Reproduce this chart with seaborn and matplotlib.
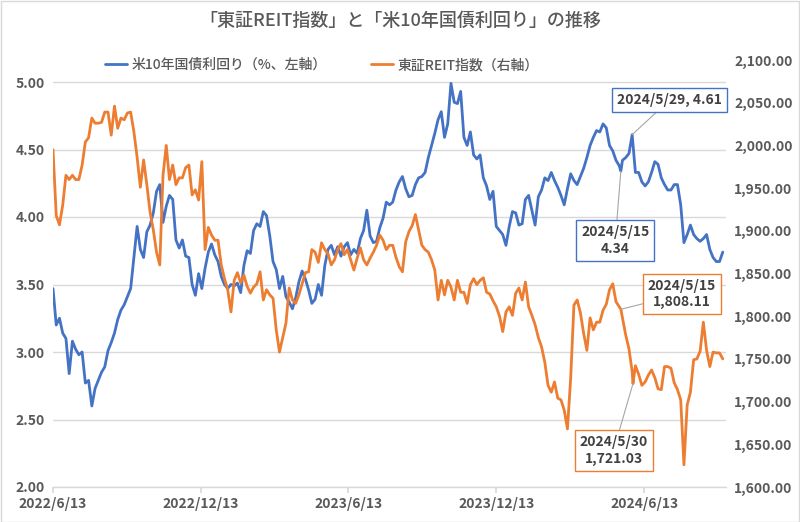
import numpy as np
import pandas as pd
import matplotlib
matplotlib.use("Agg")
import matplotlib.pyplot as plt
import matplotlib.dates as mdates
from matplotlib.patches import Rectangle
from matplotlib.lines import Line2D
import seaborn as sns

# ---------------- data ----------------
start_date = "2022-06-13"
step = "4D"

us10y_yield = [3.47, 3.20, 3.25, 3.14, 3.10, 2.84, 3.08, 3.02, 2.98, 3.00,
               2.77, 2.79, 2.60, 2.73, 2.79, 2.85, 2.89, 3.01, 3.07, 3.14,
               3.24, 3.31, 3.35, 3.41, 3.47, 3.70, 3.93, 3.76, 3.70, 3.89,
               3.94, 4.03, 4.19, 4.24, 3.96, 4.08, 4.16, 4.13, 3.83, 3.77,
               3.83, 3.71, 3.70, 3.50, 3.42, 3.58, 3.47, 3.62, 3.74, 3.80,
               3.72, 3.67, 3.56, 3.50, 3.47, 3.50, 3.49, 3.51, 3.44, 3.64,
               3.75, 3.73, 3.90, 3.95, 3.93, 4.04, 4.01, 3.86, 3.67, 3.61,
               3.47, 3.56, 3.41, 3.37, 3.32, 3.40, 3.52, 3.60, 3.54, 3.46,
               3.36, 3.39, 3.50, 3.42, 3.64, 3.76, 3.79, 3.72, 3.78, 3.71,
               3.78, 3.81, 3.72, 3.76, 3.73, 3.84, 3.90, 4.05, 3.86, 3.81,
               3.82, 3.92, 3.99, 4.11, 4.09, 4.11, 4.20, 4.26, 4.30, 4.21,
               4.15, 4.16, 4.24, 4.29, 4.30, 4.33, 4.44, 4.53, 4.62, 4.72,
               4.78, 4.59, 4.69, 4.99, 4.85, 4.84, 4.93, 4.59, 4.53, 4.63,
               4.46, 4.43, 4.46, 4.29, 4.23, 4.13, 4.19, 3.93, 3.90, 3.87,
               3.79, 3.93, 4.04, 4.03, 3.94, 3.95, 4.13, 4.16, 4.05, 3.94,
               4.15, 4.20, 4.29, 4.27, 4.33, 4.27, 4.22, 4.16, 4.09, 4.21,
               4.32, 4.27, 4.24, 4.30, 4.36, 4.44, 4.53, 4.59, 4.64, 4.63,
               4.69, 4.66, 4.53, 4.49, 4.42, 4.38, 4.42, 4.44, 4.47, 4.61,
               4.33, 4.33, 4.26, 4.23, 4.26, 4.33, 4.41, 4.39, 4.29, 4.24,
               4.20, 4.20, 4.24, 4.24, 4.09, 3.81, 3.87, 3.94, 3.87, 3.84,
               3.82, 3.84, 3.87, 3.76, 3.70, 3.67, 3.67, 3.74]

reit_index = [1995, 1918, 1907, 1930, 1965, 1960, 1965, 1960, 1960, 1977,
              2004, 2009, 2032, 2026, 2026, 2027, 2039, 2039, 2012, 2046,
              2020, 2032, 2030, 2038, 2039, 2016, 1986, 1951, 1983, 1954,
              1922, 1901, 1875, 1860, 1965, 2000, 1960, 1977, 1954, 1962,
              1962, 1974, 1977, 1942, 1948, 1936, 1981, 1878, 1904, 1895,
              1889, 1889, 1860, 1844, 1831, 1805, 1842, 1851, 1839, 1848,
              1835, 1827, 1834, 1838, 1852, 1819, 1831, 1825, 1821, 1784,
              1758, 1775, 1792, 1833, 1819, 1815, 1825, 1838, 1851, 1852,
              1878, 1875, 1863, 1886, 1878, 1873, 1860, 1866, 1878, 1885,
              1872, 1878, 1866, 1854, 1868, 1880, 1866, 1860, 1868, 1875,
              1883, 1895, 1889, 1878, 1883, 1883, 1869, 1858, 1852, 1887,
              1899, 1906, 1919, 1901, 1883, 1878, 1875, 1866, 1854, 1819,
              1842, 1825, 1842, 1834, 1819, 1842, 1828, 1828, 1815, 1837,
              1844, 1837, 1842, 1845, 1828, 1826, 1818, 1811, 1800, 1782,
              1805, 1811, 1801, 1827, 1833, 1819, 1840, 1811, 1801, 1790,
              1775, 1764, 1746, 1719, 1711, 1723, 1704, 1702, 1690, 1668,
              1728, 1813, 1819, 1804, 1780, 1760, 1798, 1784, 1793, 1793,
              1807, 1814, 1831, 1838, 1817, 1811, 1798, 1778, 1762, 1735,
              1742, 1732, 1719, 1723, 1731, 1737, 1728, 1715, 1714, 1741,
              1741, 1739, 1722, 1714, 1702, 1626, 1696, 1711, 1749, 1750,
              1759, 1793, 1760, 1741, 1758, 1757, 1757, 1750]

ann_yield_dates = ["2024-05-29", "2024-05-15"]
ann_yield_values = [4.61, 4.34]
ann_yield_texts = ["2024/5/29, 4.61", "2024/5/15\n4.34"]

ann_reit_dates = ["2024-05-15", "2024-05-30"]
ann_reit_values = [1808.11, 1721.03]
ann_reit_texts = ["2024/5/15\n1,808.11", "2024/5/30\n1,721.03"]

x_tick_dates = ["2022-06-13", "2022-12-13", "2023-06-13", "2023-12-13", "2024-06-13"]
x_tick_labels = ["2022/6/13", "2022/12/13", "2023/6/13", "2023/12/13", "2024/6/13"]
x_end_date = "2024-09-22"
left_ticks = [2.00, 2.50, 3.00, 3.50, 4.00, 4.50, 5.00]
right_ticks = [1600, 1650, 1700, 1750, 1800, 1850, 1900, 1950, 2000, 2050, 2100]

title = "「東証REIT指数」と「米10年国債利回り」の推移"
label_yield = "米10年国債利回り（%、左軸）"
label_reit = "東証REIT指数（右軸）"

# ---------------- frames ----------------
dates = pd.date_range(start_date, periods=len(us10y_yield), freq=step)
df_yield = pd.concat([
    pd.DataFrame({"date": dates, "value": us10y_yield}),
    pd.DataFrame({"date": pd.to_datetime(ann_yield_dates), "value": ann_yield_values}),
]).sort_values("date").reset_index(drop=True)
df_reit = pd.concat([
    pd.DataFrame({"date": dates, "value": reit_index}),
    pd.DataFrame({"date": pd.to_datetime(ann_reit_dates), "value": ann_reit_values}),
]).sort_values("date").reset_index(drop=True)

# ---------------- style ----------------
sns.set_theme(style="white")
plt.rcParams["font.family"] = ["Noto Sans CJK JP", "DejaVu Sans"]

BLUE = "#4472C4"
ORANGE = "#ED7D31"
GRID = "#D9D9D9"
TXT = "#595959"
WEIGHT = "semibold"

W, H = 800, 522
fig = plt.figure(figsize=(W / 100, H / 100), dpi=100)
ax = fig.add_axes([53 / W, 35 / H, 673 / W, 427 / H])
ax2 = ax.twinx()

sns.lineplot(data=df_yield, x="date", y="value", ax=ax, color=BLUE, lw=2.0,
             estimator=None, legend=False)
sns.lineplot(data=df_reit, x="date", y="value", ax=ax2, color=ORANGE, lw=2.0,
             estimator=None, legend=False)

ax.set_xlim(mdates.date2num(pd.Timestamp(start_date)), mdates.date2num(pd.Timestamp(x_end_date)))
ax.set_ylim(2.0, 2.0 + 427 / 135)
ax2.set_ylim(1600, 2100)

ax.set_xticks([mdates.date2num(pd.Timestamp(d)) for d in x_tick_dates])
ax.set_xticklabels(x_tick_labels, fontweight=WEIGHT)
ax.set_yticks(left_ticks)
ax.set_yticklabels([f"{v:.2f}" for v in left_ticks], fontweight=WEIGHT)
ax2.set_yticks(right_ticks)
ax2.set_yticklabels([f"{v:,.2f}" for v in right_ticks], fontweight=WEIGHT)

ax.set_xlabel("")
ax.set_ylabel("")
ax2.set_ylabel("")

ax.yaxis.grid(True, color=GRID, lw=1)
ax.xaxis.grid(False)
ax.set_axisbelow(True)

for s in ["top", "left", "right"]:
    ax.spines[s].set_visible(False)
ax.spines["bottom"].set_color(GRID)
ax.spines["bottom"].set_linewidth(1)
for s in ax2.spines.values():
    s.set_visible(False)

ax.tick_params(axis="x", colors=GRID, labelcolor=TXT, labelsize=10, length=4,
               direction="out", pad=3, bottom=True)
ax.tick_params(axis="y", labelcolor=TXT, labelsize=10, length=0, pad=6)
ax2.tick_params(axis="y", labelcolor=TXT, labelsize=10, length=0, pad=6)

fig.text(0.5, 1 - 21 / H, title, ha="center", va="center", fontsize=13,
         color=TXT, fontweight="medium")
handles = [Line2D([0], [0], color=BLUE, lw=2), Line2D([0], [0], color=ORANGE, lw=2)]
fig.legend(handles, [label_yield, label_reit], loc="center",
           bbox_to_anchor=(322 / W, 1 - 65 / H), ncol=2, frameon=False,
           prop={"size": 10, "weight": "medium"}, handlelength=1.6,
           handletextpad=0.3, columnspacing=3.2, labelcolor=TXT)

box_txt = "#404040"
yield_offsets = [(27, 25), (-4, -50)]
for d, v, t, off in zip(ann_yield_dates, ann_yield_values, ann_yield_texts, yield_offsets):
    ax.annotate(t, xy=(mdates.date2num(pd.Timestamp(d)), v), xytext=off,
                textcoords="offset points", ha="center", va="center",
                fontsize=10, color=box_txt, linespacing=1.25, fontweight=WEIGHT,
                bbox=dict(boxstyle="square,pad=0.35", fc="white", ec=BLUE, lw=1),
                arrowprops=dict(arrowstyle="-", color="#A6A6A6", lw=0.8,
                                shrinkA=0, shrinkB=0),
                zorder=10, annotation_clip=False)

reit_offsets = [(44, 11), (-14, -48)]
for d, v, t, off in zip(ann_reit_dates, ann_reit_values, ann_reit_texts, reit_offsets):
    ax2.annotate(t, xy=(mdates.date2num(pd.Timestamp(d)), v), xytext=off,
                 textcoords="offset points", ha="center", va="center",
                 fontsize=10, color=box_txt, linespacing=1.25, fontweight=WEIGHT,
                 bbox=dict(boxstyle="square,pad=0.35", fc="white", ec=ORANGE, lw=1),
                 arrowprops=dict(arrowstyle="-", color="#A6A6A6", lw=0.8,
                                 shrinkA=0, shrinkB=0),
                 zorder=10, annotation_clip=False)

fig.patches.append(Rectangle((0.5 / W, 0.5 / H), 1 - 1.5 / W, 1 - 1.5 / H,
                             transform=fig.transFigure, fill=False,
                             ec=GRID, lw=1))

fig.savefig("out.png", dpi=100)
